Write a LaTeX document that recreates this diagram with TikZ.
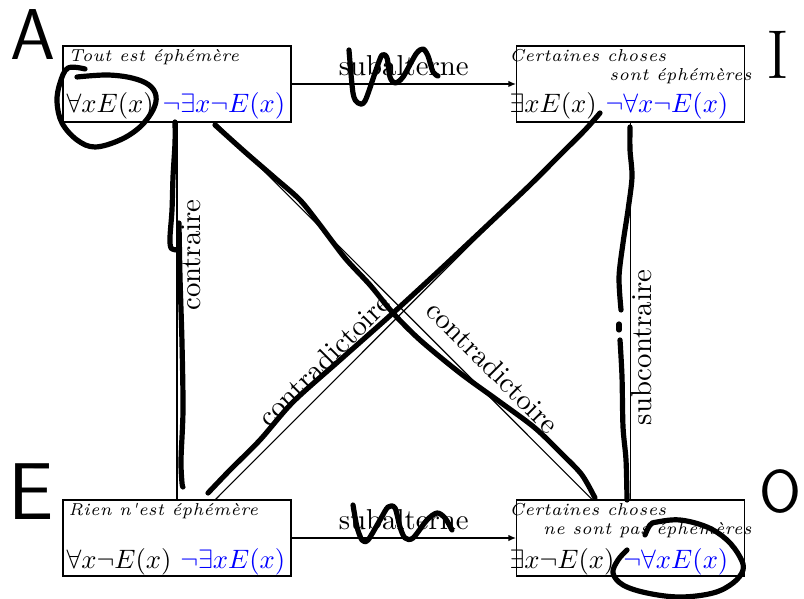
\documentclass[tikz,border=0pt]{standalone}
\usepackage{fontspec}
\usepackage{graphicx}
\usetikzlibrary{arrows.meta}
\newfontfamily\notefont{lmroman7-italic.otf}[LetterSpace=3]
\newcommand{\fm}[1]{\scalebox{0.925}{#1}}
\tikzset{
  box/.style={draw, line width=0.4pt, minimum width=79.16pt, minimum height=26.39pt, inner sep=0pt},
  note/.style={font=\notefont\fontsize{6}{7}\selectfont, anchor=base west, inner sep=0pt},
  form/.style={anchor=base west, inner sep=0pt},
  lab/.style={font=\normalsize, inner sep=0pt},
  conn/.style={line width=0.4pt},
  arr/.style={line width=0.4pt, -{Latex[length=2.6pt,width=2.2pt]}},
  hand/.style={line width=1.8pt, line cap=round, line join=round},
  letter/.style={font=\sffamily\fontsize{25}{30}\selectfont, inner sep=0pt}
}
\begin{document}
\begin{tikzpicture}[x=0.3472pt,y=-0.3472pt]
\useasboundingbox (0,0) rectangle (804,599);
% boxes
\node[box] (A) at (177,84) {};
\node[box] (I) at (630.5,84) {};
\node[box] (E) at (177,538) {};
\node[box] (O) at (630.5,538) {};
% texts in boxes
\node[note] (At) at (68,62) {Tout est éphémère};
\node[form] (Af) at (66,113) {\fm{$\forall xE(x)$ \textcolor{blue}{$\neg\exists x\neg E(x)$}}};
\node[note] (It1) at (509,62) {Certaines choses};
\node[note, anchor=base east] (It2) at (752,81) {sont éphémères};
\node[form] (If) at (509,113) {\fm{$\exists xE(x)$ \textcolor{blue}{$\neg\forall x\neg E(x)$}}};
\node[note] (Et) at (68,516) {Rien n'est éphémère};
\node[form] (Ef) at (66,568) {\fm{$\forall x\neg E(x)$ \textcolor{blue}{$\neg\exists xE(x)$}}};
\node[note] (Ot1) at (509,515) {Certaines choses};
\node[note, anchor=base east] (Ot2) at (752,534) {ne sont pas éphémères};
\node[form] (Of) at (509,568) {\fm{$\exists x\neg E(x)$ \textcolor{blue}{$\neg\forall xE(x)$}}};
% connectors
\draw[arr] (A) -- node[lab, pos=0.5, anchor=base, yshift=2.8pt] (s1) {subalterne} (I);
\draw[arr] (E) -- node[lab, pos=0.5, anchor=base, yshift=2.8pt] (s2) {subalterne} (O);
\draw[conn] (A) -- (E);
\draw[conn] (I) -- (O);
\draw[conn] (A) -- (O);
\draw[conn] (E) -- (I);
\node[lab, rotate=90, anchor=base] (lc) at (200.5,255) {contraire};
\node[lab, rotate=90, anchor=base] (lsc) at (651.5,347.5) {subcontraire};
\node[lab, rotate=45] (ld1) at (324,360) {contradictoire};
\node[lab, rotate=-45] (ld2) at (493,367) {contradictoire};
% handwritten letters
\node[letter] (hA) at (33,35) {A};
\node[letter, font=\rmfamily\fontsize{24}{28}\selectfont] (hI) at (778,55) {I};
\node[letter, font=\sffamily\fontsize{28}{32}\selectfont] (hE) at (31,492) {E};
\node[letter, font=\sffamily\fontsize{21}{26}\selectfont] (hO) at (780,492) {O};
% handwritten strokes
\draw[hand] plot[smooth, tension=0.6] coordinates {(85,69) (68,68) (60,83) (57,102) (62,123) (77,140) (95,147) (120,140) (140,127) (153,110) (156,96) (149,85) (132,78) (107,75) (77,77)};
\draw[hand] plot[smooth, tension=0.6] coordinates {(645,535) (650,525) (657,522) (680,520) (707,527) (727,540) (740,557) (743,570) (733,583) (713,593) (680,597) (647,593) (623,585) (613,573) (618,560) (627,550)};
\draw[hand] plot[smooth, tension=0.5] coordinates {(349,50) (353,93) (358,103) (365,101) (376,70) (382,55) (387,58) (390,77) (395,83) (403,77) (416,54) (423,49) (428,56) (433,72) (438,76)};
\draw[hand] plot[smooth, tension=0.5] coordinates {(353,505) (357,527) (362,540) (368,540) (380,520) (388,507) (395,508) (400,527) (405,538) (413,538) (427,520) (437,513) (445,518) (452,530)};
\draw[hand] plot[smooth, tension=0.5] coordinates {(175,122) (175,143) (173,177) (172,210) (170,237) (171,248) (177,250)};
\draw[hand] plot[smooth, tension=0.5] coordinates {(179,223) (180,277) (182,343) (183,410) (181,460) (182,483) (183,487)};
\draw[hand] plot[smooth, tension=0.5] coordinates {(630,127) (630,150) (632,177) (628,210) (623,243) (619,277) (621,310)};
\draw[hand] (619,324) -- (619,330);
\draw[hand] plot[smooth, tension=0.5] coordinates {(620,340) (622,377) (623,427) (626,460) (627,500)};
\draw[hand] plot[smooth, tension=0.5] coordinates {(215,125) (245,152) (275,178) (300,200) (320,225) (345,258) (370,285) (393,313) (420,340) (460,373) (500,402) (535,428) (563,455) (582,475) (595,498)};
\draw[hand] plot[smooth, tension=0.5] coordinates {(208,493) (230,470) (260,440) (293,402) (340,360) (393,313) (443,267) (493,220) (530,185) (560,155) (585,130) (600,113)};
\end{tikzpicture}
\end{document}
